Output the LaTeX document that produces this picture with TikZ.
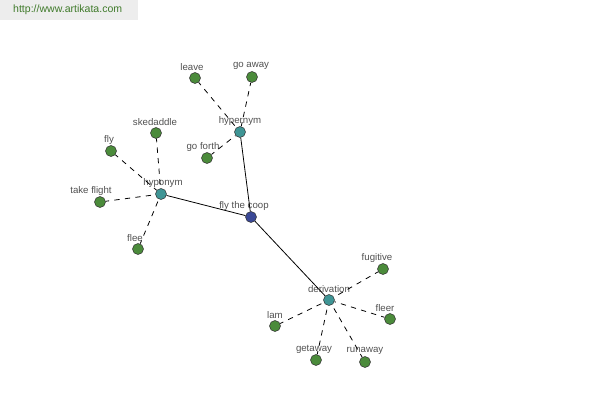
\documentclass[tikz,border=0pt]{standalone}
\usepackage{fontspec}
\setmainfont{Liberation Sans}
\usepackage{tikz}
\usetikzlibrary{positioning}

\definecolor{leafgreen}{HTML}{4B8B3B}
\definecolor{hubteal}{HTML}{3F9595}
\definecolor{rootblue}{HTML}{3A4896}
\definecolor{lblgray}{HTML}{505050}
\definecolor{sitegreen}{HTML}{3F7A2A}

\begin{document}
\begin{tikzpicture}[x=0.02cm, y=-0.02cm, font=\fontsize{5.5}{6.5}\selectfont,
  dot/.style={circle, draw=black!80, line width=0.3pt, inner sep=0pt, minimum size=0.22cm},
  leaf/.style={dot, fill=leafgreen},
  hub/.style={dot, fill=hubteal},
  root/.style={dot, fill=rootblue},
  lbl/.style={text=lblgray, inner sep=0pt},
  rel/.style={line width=0.45pt, black},
  syn/.style={line width=0.45pt, black, dash pattern=on 3pt off 3pt, dash phase=1pt}]
\useasboundingbox (0,0) rectangle (600,400);

% Site banner
\fill[black!7] (0,0) rectangle (138,20);
\node[text=sitegreen, font=\fontsize{6}{7}\selectfont, anchor=west] (site) at (7,10) {http://www.artikata.com};

% Centre and hubs
\node[root] (coop) at (251,217) {};
\node[lbl] (coop-l) at (244,206) {fly the coop};
\node[hub] (hyper) at (240,132) {};
\node[lbl] (hyper-l) at (240,121) {hypernym};
\node[hub] (hypo) at (161,194) {};
\node[lbl] (hypo-l) at (163,183) {hyponym};
\node[hub] (deriv) at (329,300) {};
\node[lbl] (deriv-l) at (329,289) {derivation};

\draw[rel] (hyper) -- (coop);
\draw[rel] (hypo) -- (coop);
\draw[rel] (deriv) -- (coop);

% Leaves: name/x/y/label x/hub/text
\foreach \n/\x/\y/\lx/\h/\t in {
    leave/195/78/192/hyper/leave,
    goaway/252/77/251/hyper/go away,
    goforth/207/158/203/hyper/go forth,
    skedaddle/156/133/155/hypo/skedaddle,
    fly/111/151/109/hypo/fly,
    takeflight/100/202/91/hypo/take flight,
    flee/138/249/135/hypo/flee,
    fugitive/383/269/377/deriv/fugitive,
    fleer/390/319/385/deriv/fleer,
    lam/275/326/275/deriv/lam,
    getaway/316/360/314/deriv/getaway,
    runaway/365/362/365/deriv/runaway}{
  \node[leaf] (\n) at (\x,\y) {};
  \node[lbl] (\n-l) at (\lx,\y-11) {\t};
  \draw[syn] (\n) -- (\h);
}
\end{tikzpicture}
\end{document}
